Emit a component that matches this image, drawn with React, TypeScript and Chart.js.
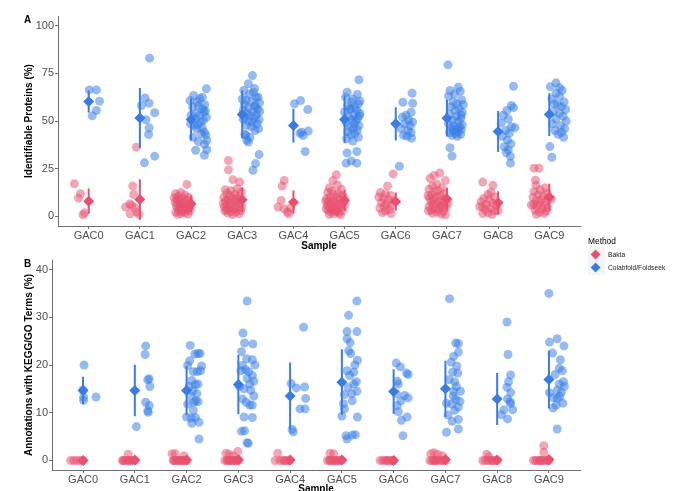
import React, { useEffect, useRef } from 'react';
import { Chart, registerables } from 'chart.js';

Chart.register(...registerables);

const SAMPLES = ['GAC0', 'GAC1', 'GAC2', 'GAC3', 'GAC4', 'GAC5', 'GAC6', 'GAC7', 'GAC8', 'GAC9'];
const METHODS = ['Bakta', 'Colabfold/Foldseek'];
const PROT_TICKS = [0, 25, 50, 75, 100];
const KEGG_TICKS = [0, 10, 20, 30, 40];

// each point: [value %, horizontal jitter in category units]
const PROT_BAKTA: number[][][] = [
  [[17.1, -0.28], [11.9, -0.16], [9.6, -0.2], [1.9, -0.08], [0.9, -0.11]],
  [[36.3, -0.07], [15.9, -0.14], [11.5, -0.12], [4.9, -0.28], [5.8, -0.16], [1.4, -0.19], [2.3, -0.06], [4.5, -0.1], [1.2, -0.02], [6.5, -0.2]],
  [[16.8, -0.08], [12.5, -0.2], [11.9, -0.3], [11.2, -0.12], [10.5, -0.25], [10.0, -0.05], [9.6, -0.17], [9.1, -0.28], [8.7, -0.1], [8.2, -0.22], [7.9, -0.03], [7.5, -0.31], [7.1, -0.15], [6.8, -0.24], [6.4, -0.07], [6.0, -0.19], [5.7, -0.29], [5.3, -0.11], [5.0, -0.21], [4.6, -0.04], [4.3, -0.26], [4.0, -0.14], [3.6, -0.09], [3.3, -0.23], [3.0, -0.02], [2.6, -0.17], [2.3, -0.3], [2.0, -0.12], [1.6, -0.2], [1.3, -0.06], [1.0, -0.26], [9.8, -0.33], [5.5, -0.01], [3.8, -0.18]],
  [[29.3, -0.27], [24.4, -0.27], [19.2, -0.18], [18.0, -0.05], [14.5, -0.1], [14.0, -0.33], [13.5, -0.22], [12.8, -0.02], [12.0, -0.3], [11.5, -0.14], [11.0, -0.24], [10.4, -0.06], [9.9, -0.36], [9.3, -0.19], [8.8, -0.28], [8.3, -0.1], [7.9, -0.33], [7.5, -0.15], [7.0, -0.24], [6.6, -0.04], [6.2, -0.3], [5.8, -0.12], [5.4, -0.21], [5.0, -0.35], [4.6, -0.08], [4.2, -0.26], [3.8, -0.17], [3.4, -0.31], [3.0, -0.03], [2.6, -0.22], [2.2, -0.13], [1.8, -0.28], [1.4, -0.06], [1.0, -0.19], [6.8, -0.37], [4.9, -0.01], [2.9, -0.34], [9.6, -0.11]],
  [[18.8, -0.18], [15.9, -0.22], [8.4, -0.24], [4.9, -0.3], [4.0, -0.18], [2.3, -0.12], [1.4, -0.09], [4.5, -0.05]],
  [[21.8, -0.16], [18.8, -0.23], [16.5, -0.14], [15.0, -0.3], [14.2, -0.06], [13.3, -0.25], [12.6, -0.33], [12.0, -0.12], [11.4, -0.2], [10.9, -0.04], [10.3, -0.28], [9.8, -0.15], [9.3, -0.35], [8.8, -0.09], [8.3, -0.22], [7.9, -0.31], [7.5, -0.02], [7.1, -0.17], [6.7, -0.26], [6.3, -0.1], [5.9, -0.34], [5.5, -0.19], [5.1, -0.06], [4.7, -0.29], [4.3, -0.13], [3.9, -0.23], [3.5, -0.32], [3.1, -0.04], [2.7, -0.18], [2.3, -0.27], [1.9, -0.11], [1.5, -0.21], [1.1, -0.3], [0.8, -0.08], [8.0, -0.37], [6.0, 0.0], [4.0, -0.36], [10.0, -0.01], [2.5, -0.15]],
  [[22.3, -0.05], [16.0, -0.16], [12.5, -0.3], [11.8, -0.2], [11.0, -0.1], [10.2, -0.33], [9.5, -0.24], [8.8, -0.14], [8.0, -0.03], [7.3, -0.28], [6.6, -0.18], [5.9, -0.08], [5.2, -0.22], [4.4, -0.31], [3.6, -0.12], [2.8, -0.2], [2.0, -0.26], [1.5, -0.09]],
  [[22.7, -0.14], [21.5, -0.25], [20.0, -0.33], [18.8, -0.03], [17.0, -0.2], [16.0, -0.28], [15.0, -0.1], [14.2, -0.35], [13.5, -0.17], [12.8, -0.24], [12.0, -0.06], [11.4, -0.3], [10.8, -0.13], [10.2, -0.21], [9.7, -0.34], [9.2, -0.04], [8.7, -0.26], [8.2, -0.15], [7.7, -0.31], [7.2, -0.09], [6.7, -0.2], [6.2, -0.27], [5.7, -0.12], [5.2, -0.35], [4.7, -0.02], [4.2, -0.23], [3.7, -0.17], [3.2, -0.3], [2.7, -0.07], [2.2, -0.19], [1.7, -0.28], [1.2, -0.11], [0.9, -0.03], [11.0, -0.37], [7.0, 0.02], [5.0, -0.1], [3.0, -0.36]],
  [[18.0, -0.3], [16.3, -0.1], [12.6, -0.14], [11.5, -0.2], [10.2, -0.07], [9.4, -0.28], [8.6, -0.17], [7.8, -0.33], [7.0, -0.11], [6.3, -0.23], [5.6, -0.03], [4.9, -0.3], [4.2, -0.15], [3.5, -0.25], [2.8, -0.08], [2.1, -0.2], [1.5, -0.3], [1.0, -0.12], [5.2, -0.36], [3.0, 0.0]],
  [[25.3, -0.3], [25.3, -0.2], [19.0, -0.27], [16.3, -0.26], [15.0, -0.08], [14.0, -0.18], [13.0, -0.3], [12.2, -0.04], [11.4, -0.22], [10.7, -0.12], [10.0, -0.32], [9.4, -0.02], [8.8, -0.16], [8.2, -0.26], [7.6, -0.08], [7.0, -0.2], [6.4, -0.3], [5.8, -0.1], [5.2, -0.24], [4.6, -0.03], [4.0, -0.14], [3.4, -0.28], [2.8, -0.06], [2.2, -0.19], [1.6, -0.1], [1.1, -0.25], [9.0, 0.04], [6.0, -0.35]],
];

const PROT_COLAB: number[][][] = [
  [[66.3, 0.01], [66.3, 0.15], [60.4, 0.21], [55.5, 0.15], [52.7, 0.07]],
  [[82.9, 0.19], [62.1, 0.1], [58.1, 0.03], [59.3, 0.18], [54.3, 0.29], [50.6, 0.12], [46.4, 0.18], [42.9, 0.17], [31.6, 0.29], [28.1, 0.09]],
  [[66.9, 0.3], [63.4, 0.05], [62.5, 0.22], [61.6, 0.17], [60.7, -0.02], [59.9, 0.12], [58.5, 0.27], [57.3, 0.03], [56.4, 0.22], [55.2, 0.28], [54.7, 0.25], [53.8, 0.1], [52.9, 0.16], [52.0, 0.3], [51.2, 0.08], [50.3, 0.24], [49.4, 0.19], [48.5, -0.01], [48.0, 0.13], [47.7, 0.06], [46.4, 0.22], [45.9, 0.11], [44.2, 0.26], [43.3, 0.2], [42.7, 0.29], [41.5, 0.04], [39.3, 0.14], [39.8, 0.31], [37.8, 0.26], [34.7, 0.09], [35.0, 0.31], [32.0, 0.26], [53.0, 0.0], [57.8, 0.14]],
  [[73.8, 0.2], [69.5, 0.12], [66.0, 0.03], [65.0, 0.22], [64.2, 0.14], [62.5, 0.31], [62.5, 0.27], [61.0, 0.08], [60.2, 0.18], [59.5, 0.34], [58.5, 0.04], [57.8, 0.24], [57.0, 0.12], [56.2, 0.3], [55.5, 0.02], [54.8, 0.2], [54.0, 0.1], [53.3, 0.28], [52.6, 0.16], [52.0, 0.05], [51.3, 0.24], [50.7, 0.33], [50.0, 0.12], [49.3, 0.2], [48.6, 0.29], [47.8, 0.08], [47.0, 0.18], [46.0, 0.32], [45.0, 0.25], [43.0, 0.05], [42.6, 0.07], [41.5, 0.15], [39.9, 0.09], [39.0, 0.12], [32.4, 0.33], [27.7, 0.26], [24.2, 0.21], [61.5, 0.0], [58.0, 0.26], [55.0, 0.34], [51.0, 0.02], [67.0, 0.24]],
  [[59.0, 0.02], [60.7, 0.14], [56.0, 0.28], [44.1, 0.16], [44.7, 0.29], [42.4, 0.19], [43.5, 0.13], [34.0, 0.23]],
  [[71.6, 0.28], [65.1, 0.05], [63.9, 0.25], [62.5, 0.02], [61.5, 0.16], [59.8, 0.14], [59.0, 0.27], [58.0, 0.06], [57.2, 0.2], [56.5, 0.12], [55.5, 0.24], [54.7, 0.0], [54.0, 0.3], [53.0, 0.18], [52.3, 0.08], [51.5, 0.26], [50.8, 0.14], [50.0, 0.22], [49.2, 0.03], [48.5, 0.19], [47.7, 0.28], [47.0, 0.1], [46.2, 0.17], [45.3, 0.25], [44.5, 0.06], [43.5, 0.2], [42.7, 0.12], [41.5, 0.27], [40.8, 0.04], [39.5, 0.16], [33.3, 0.05], [34.0, 0.24], [29.0, 0.13], [27.9, 0.03], [27.9, 0.24], [60.5, 0.3], [56.0, 0.1], [52.8, 0.29]],
  [[64.6, 0.32], [59.8, 0.14], [59.3, 0.33], [54.6, 0.3], [53.0, 0.2], [52.0, 0.13], [50.5, 0.25], [49.5, 0.33], [48.5, 0.17], [47.5, 0.28], [46.0, 0.1], [45.0, 0.24], [44.0, 0.3], [42.5, 0.15], [41.0, 0.31], [42.0, 0.22], [26.3, 0.07]],
  [[79.4, 0.02], [67.7, 0.22], [66.0, 0.06], [65.5, 0.26], [64.0, 0.15], [63.0, 0.03], [61.0, 0.29], [60.0, 0.12], [59.0, 0.2], [57.5, 0.08], [56.5, 0.24], [55.5, 0.16], [54.5, 0.3], [53.5, 0.05], [52.5, 0.19], [51.5, 0.27], [50.5, 0.11], [49.5, 0.22], [48.5, 0.03], [48.0, 0.3], [47.5, 0.14], [47.0, 0.25], [46.5, 0.08], [46.0, 0.19], [45.5, 0.28], [45.0, 0.12], [44.5, 0.22], [44.0, 0.05], [43.5, 0.17], [43.0, 0.27], [42.5, 0.1], [42.0, 0.2], [36.0, 0.06], [31.6, 0.1], [53.0, 0.28], [58.5, 0.32]],
  [[68.2, 0.3], [58.1, 0.26], [57.0, 0.3], [55.5, 0.17], [53.0, 0.1], [51.0, 0.2], [49.0, 0.06], [47.0, 0.26], [46.5, 0.33], [45.0, 0.15], [43.5, 0.22], [42.0, 0.08], [40.0, 0.18], [38.0, 0.25], [36.5, 0.12], [35.0, 0.2], [33.5, 0.16], [31.5, 0.24], [27.9, 0.24]],
  [[70.0, 0.13], [68.0, 0.02], [67.5, 0.2], [66.0, 0.25], [64.5, 0.13], [63.0, 0.2], [61.5, 0.05], [60.0, 0.29], [58.5, 0.16], [57.5, 0.24], [56.0, 0.32], [55.0, 0.08], [54.0, 0.2], [52.5, 0.27], [51.0, 0.13], [50.0, 0.33], [48.5, 0.06], [47.5, 0.22], [46.0, 0.3], [45.0, 0.11], [44.0, 0.24], [43.0, 0.17], [41.5, 0.28], [36.6, 0.01], [31.0, 0.05], [59.0, 0.1]],
];

const PROT_BAKTA_MEAN = [8.0, 8.9, 6.6, 8.7, 7.5, 8.4, 7.8, 9.2, 7.2, 10.1];
const PROT_BAKTA_SD = [6.6, 10.6, 4.5, 6.5, 6.1, 5.5, 4.8, 6.0, 6.0, 7.0];
const PROT_COLAB_MEAN = [60.2, 51.6, 50.8, 53.4, 47.6, 50.8, 48.5, 51.5, 44.5, 53.4];
const PROT_COLAB_SD = [5.8, 15.7, 11.0, 12.6, 8.8, 12.5, 8.7, 9.6, 10.7, 11.2];

const KEGG_BAKTA: number[][][] = [
  [[0, -0.24], [0, -0.18], [0, -0.12], [0, -0.06], [0, 0]],
  [[1.3, -0.13], [0, -0.24], [0, -0.2], [0, -0.16], [0, -0.12], [0, -0.08], [0, -0.04], [0, 0], [0, -0.22], [0, -0.1]],
  [[1.4, -0.28], [1.4, -0.22], [1.0, -0.05], [0, -0.26], [0, -0.22], [0, -0.18], [0, -0.14], [0, -0.1], [0, -0.06], [0, -0.02], [0, 0], [0, -0.24], [0, -0.16], [0, -0.08]],
  [[1.5, -0.24], [1.3, -0.18], [1.9, -0.01], [1.0, -0.1], [0, -0.26], [0, -0.22], [0, -0.18], [0, -0.14], [0, -0.1], [0, -0.06], [0, -0.02], [0, 0], [0, -0.2], [0, -0.12]],
  [[1.5, -0.24], [0, -0.29], [0, -0.2], [0, -0.14], [0, -0.08], [0, -0.03], [0, 0], [0, -0.11]],
  [[1.5, -0.23], [1.4, -0.16], [0, -0.28], [0, -0.24], [0, -0.2], [0, -0.16], [0, -0.12], [0, -0.08], [0, -0.04], [0, 0], [0, -0.22], [0, -0.1]],
  [[0, -0.26], [0, -0.21], [0, -0.16], [0, -0.11], [0, -0.06], [0, -0.02], [0, 0], [0, -0.13]],
  [[1.4, -0.28], [1.6, -0.22], [1.3, -0.15], [1.0, -0.06], [0, -0.3], [0, -0.26], [0, -0.22], [0, -0.18], [0, -0.14], [0, -0.1], [0, -0.06], [0, -0.02], [0, 0], [0, -0.2]],
  [[1.3, -0.2], [0.8, -0.16], [0, -0.28], [0, -0.23], [0, -0.18], [0, -0.13], [0, -0.08], [0, -0.03], [0, 0], [0, -0.1]],
  [[3.1, -0.1], [1.7, -0.1], [0, -0.3], [0, -0.26], [0, -0.22], [0, -0.18], [0, -0.14], [0, -0.1], [0, -0.06], [0, -0.02], [0, 0], [0, -0.16]],
];

const KEGG_COLAB: number[][][] = [
  [[20.0, 0.02], [14.8, 0.0], [13.3, 0.01], [12.6, 0.01], [13.3, 0.25]],
  [[24.0, 0.21], [22.2, 0.2], [17.1, 0.28], [16.9, 0.25], [15.5, 0.29], [12.2, 0.21], [11.5, 0.28], [10.4, 0.25], [10.1, 0.26], [7.1, 0.03]],
  [[24.1, 0.07], [22.3, 0.16], [22.4, 0.22], [22.4, 0.26], [20.9, 0.06], [19.9, 0.02], [19.8, 0.29], [18.6, 0.13], [18.6, 0.21], [18.8, 0.27], [16.75, 0.1], [15.9, 0.17], [15.5, 0.05], [14.6, 0.12], [13.5, 0.08], [12.5, 0.18], [12.2, 0.14], [11.8, 0.02], [12.3, 0.22], [9.1, 0.0], [8.9, 0.09], [9.0, 0.17], [7.8, 0.1], [8.0, 0.24], [4.5, 0.24], [14.0, 0.2], [10.5, 0.13], [16.0, 0.22]],
  [[33.4, 0.17], [26.7, 0.09], [24.6, 0.12], [24.4, 0.28], [22.8, 0.06], [21.3, 0.16], [21.1, 0.27], [19.9, 0.08], [19.0, 0.14], [18.6, 0.2], [18.8, 0.05], [17.8, 0.27], [17.2, 0.17], [16.6, 0.3], [16.0, 0.22], [15.0, 0.11], [14.7, 0.24], [12.9, 0.08], [12.2, 0.15], [11.6, 0.22], [11.6, 0.27], [9.1, 0.11], [9.0, 0.27], [6.1, 0.06], [6.2, 0.12], [3.7, 0.17], [3.6, 0.19], [20.0, 0.32], [15.5, 0.02], [13.5, 0.3]],
  [[27.9, 0.26], [16.1, 0.02], [15.2, 0.12], [15.4, 0.28], [13.0, 0.3], [10.8, 0.19], [10.8, 0.29], [6.5, 0.04], [6.0, 0.06]],
  [[33.4, 0.29], [30.4, 0.13], [27.0, 0.1], [27.0, 0.29], [25.5, 0.1], [24.7, 0.16], [23.0, 0.13], [22.4, 0.17], [21.0, 0.3], [18.8, 0.1], [18.5, 0.23], [17.8, 0.15], [16.5, 0.28], [16.0, 0.23], [15.3, 0.12], [14.5, 0.29], [14.0, 0.19], [13.8, 0.05], [11.9, 0.03], [10.8, 0.05], [9.1, 0.3], [9.3, 0.0], [5.2, 0.08], [5.3, 0.2], [5.4, 0.26], [4.5, 0.1], [20.0, 0.25], [12.5, 0.2]],
  [[20.4, 0.05], [19.6, 0.13], [18.3, 0.25], [16.6, 0.07], [16.0, 0.09], [13.6, 0.21], [13.1, 0.28], [11.5, 0.07], [10.2, 0.09], [9.1, 0.26], [8.4, 0.15], [5.2, 0.18], [18.0, 0.28], [14.0, 0.05], [12.5, 0.14]],
  [[33.9, 0.08], [24.6, 0.2], [24.5, 0.25], [22.7, 0.25], [21.8, 0.16], [20.6, 0.11], [19.8, 0.22], [18.5, 0.14], [18.3, 0.24], [16.9, 0.07], [16.5, 0.18], [15.5, 0.21], [14.5, 0.16], [14.5, 0.29], [13.5, 0.15], [12.8, 0.2], [12.4, 0.28], [11.8, 0.12], [11.2, 0.25], [9.5, 0.05], [8.2, 0.13], [8.6, 0.25], [5.9, 0.02], [6.6, 0.25], [12.0, 0.02], [10.5, 0.18]],
  [[29.0, 0.19], [22.2, 0.21], [17.9, 0.26], [16.5, 0.22], [15.3, 0.19], [14.2, 0.26], [12.9, 0.2], [12.3, 0.25], [11.9, 0.26], [10.6, 0.13], [10.6, 0.3], [9.6, 0.08], [8.7, 0.2]],
  [[35.0, 0.0], [24.8, 0.01], [25.5, 0.16], [24.0, 0.29], [22.5, 0.07], [21.1, 0.22], [19.3, 0.2], [18.8, 0.26], [18.0, 0.12], [16.5, 0.28], [16.0, 0.2], [15.5, 0.3], [14.7, 0.16], [14.2, 0.01], [14.3, 0.24], [13.2, 0.08], [13.0, 0.16], [13.4, 0.21], [11.6, 0.14], [11.0, 0.08], [6.6, 0.16], [12.0, 0.27]],
];

const KEGG_BAKTA_MEAN = [0, 0.1, 0.1, 0.15, 0.1, 0.1, 0, 0.2, 0.1, 0.2];
const KEGG_BAKTA_SD = [0, 0.4, 0.4, 0.5, 0.4, 0.4, 0, 0.5, 0.4, 0.7];
const KEGG_COLAB_MEAN = [14.66, 14.66, 14.66, 15.9, 13.5, 16.4, 14.45, 15.0, 12.9, 16.96];
const KEGG_COLAB_SD = [2.9, 5.4, 5.2, 6.2, 7.0, 6.9, 4.65, 5.9, 5.45, 6.1];

const RED = 'rgb(232,80,110)';
const RED_PT = 'rgba(232,80,110,0.5)';
const BLUE = 'rgb(56,124,228)';
const BLUE_PT = 'rgba(56,124,228,0.52)';
const FONT = "'Liberation Sans', Arial, Helvetica, sans-serif";
const AXIS = '#6e6e6e';
const TICKTXT = '#4d4d4d';

function pointsOf(groups: number[][][]) {
  return groups.flatMap((g, i) => g.map(([v, dx]) => ({ x: i + dx, y: v })));
}
function barsOf(mean: number[], sd: number[]) {
  return mean.flatMap((m, i) => [
    { x: i, y: m - sd[i] },
    { x: i, y: m + sd[i] },
    { x: i, y: null as any },
  ]);
}
function meansOf(mean: number[]) {
  return mean.map((m, i) => ({ x: i, y: m }));
}

type PanelCfg = {
  bakta: number[][][];
  colab: number[][][];
  bMean: number[];
  bSd: number[];
  cMean: number[];
  cSd: number[];
  yMin: number;
  yMax: number;
  yTicks: number[];
  yTitle: string;
  yWidth: number;
  xHeight: number;
  padding: { left: number; right: number; top: number; bottom: number };
};

function makeConfig(p: PanelCfg): any {
  return {
    type: 'scatter',
    data: {
      datasets: [
        { label: METHODS[1] + ' mean', data: meansOf(p.cMean), pointStyle: 'rectRot', pointRadius: 5.5, backgroundColor: BLUE, borderWidth: 0, order: 0 },
        { label: METHODS[0] + ' mean', data: meansOf(p.bMean), pointStyle: 'rectRot', pointRadius: 5.5, backgroundColor: RED, borderWidth: 0, order: 1 },
        { label: METHODS[1] + ' sd', data: barsOf(p.cMean, p.cSd), showLine: true, spanGaps: false, borderColor: BLUE, borderWidth: 2, pointRadius: 0, order: 2 },
        { label: METHODS[0] + ' sd', data: barsOf(p.bMean, p.bSd), showLine: true, spanGaps: false, borderColor: RED, borderWidth: 2, pointRadius: 0, order: 3 },
        { label: METHODS[1], data: pointsOf(p.colab), pointRadius: 4.5, backgroundColor: BLUE_PT, borderWidth: 0, order: 4 },
        { label: METHODS[0], data: pointsOf(p.bakta), pointRadius: 4.5, backgroundColor: RED_PT, borderWidth: 0, order: 5 },
      ],
    },
    options: {
      animation: false,
      responsive: false,
      devicePixelRatio: 1,
      layout: { padding: p.padding },
      plugins: { legend: { display: false }, tooltip: { enabled: false } },
      scales: {
        x: {
          type: 'linear',
          min: -0.6,
          max: 9.6,
          afterBuildTicks: (s: any) => {
            s.ticks = SAMPLES.map((_, i) => ({ value: i }));
          },
          afterFit: (s: any) => {
            s.height = p.xHeight;
          },
          ticks: {
            autoSkip: false,
            maxRotation: 0,
            padding: 0,
            color: TICKTXT,
            font: { family: FONT, size: 11 },
            callback: (_v: any, i: number) => SAMPLES[i],
          },
          grid: { drawOnChartArea: false, drawTicks: true, tickLength: 3, color: AXIS },
          border: { display: true, color: AXIS, width: 1 },
          title: { display: true, text: 'Sample', color: '#000', padding: 0, font: { family: FONT, size: 10, weight: 'bold' } },
        },
        y: {
          type: 'linear',
          min: p.yMin,
          max: p.yMax,
          afterBuildTicks: (s: any) => {
            s.ticks = p.yTicks.map((v) => ({ value: v }));
          },
          afterFit: (s: any) => {
            s.width = p.yWidth;
          },
          ticks: {
            padding: 1,
            color: TICKTXT,
            font: { family: FONT, size: 11 },
            callback: (v: any) => String(v),
          },
          grid: { drawOnChartArea: false, drawTicks: true, tickLength: 3, color: AXIS },
          border: { display: true, color: AXIS, width: 1 },
          title: { display: true, text: p.yTitle, color: '#000', padding: 0, font: { family: FONT, size: 10, weight: 'bold' } },
        },
      },
    },
  };
}

function Panel(props: { cfg: PanelCfg; top: number; height: number }) {
  const ref = useRef<HTMLCanvasElement>(null);
  useEffect(() => {
    if (!ref.current) return;
    const chart = new Chart(ref.current, makeConfig(props.cfg));
    return () => chart.destroy();
  }, []);
  return (
    <canvas
      ref={ref}
      width={680}
      height={props.height}
      style={{ position: 'absolute', left: 0, top: props.top, width: 680, height: props.height }}
    />
  );
}

const PANEL_A: PanelCfg = {
  bakta: PROT_BAKTA,
  colab: PROT_COLAB,
  bMean: PROT_BAKTA_MEAN,
  bSd: PROT_BAKTA_SD,
  cMean: PROT_COLAB_MEAN,
  cSd: PROT_COLAB_SD,
  yMin: -5,
  yMax: 105,
  yTicks: PROT_TICKS,
  yTitle: 'Identifiable Proteins (%)',
  yWidth: 35,
  xHeight: 26,
  padding: { left: 23, right: 100, top: 16, bottom: 0 },
};

const PANEL_B: PanelCfg = {
  bakta: KEGG_BAKTA,
  colab: KEGG_COLAB,
  bMean: KEGG_BAKTA_MEAN,
  bSd: KEGG_BAKTA_SD,
  cMean: KEGG_COLAB_MEAN,
  cSd: KEGG_COLAB_SD,
  yMin: -2,
  yMax: 42,
  yTicks: KEGG_TICKS,
  yTitle: 'Annotations with KEGG/GO Terms (%)',
  yWidth: 29,
  xHeight: 25,
  padding: { left: 23, right: 100, top: 8, bottom: 9 },
};

function LegendKey(props: { color: string; label: string; top: number }) {
  return (
    <>
      <div style={{ position: 'absolute', left: 588, top: props.top - 7, width: 17, height: 14, background: '#f4f4f7' }} />
      <div
        style={{
          position: 'absolute',
          left: 596 - 3.6,
          top: props.top - 3.6,
          width: 7.2,
          height: 7.2,
          background: props.color,
          transform: 'rotate(45deg)',
        }}
      />
      <div style={{ position: 'absolute', left: 608, top: props.top - 4, fontSize: 6.7, lineHeight: '8px', fontFamily: FONT, color: '#1a1a1a' }}>
        {props.label}
      </div>
    </>
  );
}

export default function App() {
  return (
    <div style={{ position: 'fixed', left: 0, top: 0, width: 680, height: 491, overflow: 'hidden', background: '#fff' }}>
      <Panel cfg={PANEL_A} top={0} height={252} />
      <Panel cfg={PANEL_B} top={252} height={252} />
      <div style={{ position: 'absolute', left: 24, top: 15, fontFamily: FONT, fontWeight: 'bold', fontSize: 10, lineHeight: '10px', color: '#000' }}>A</div>
      <div style={{ position: 'absolute', left: 24, top: 259, fontFamily: FONT, fontWeight: 'bold', fontSize: 10, lineHeight: '10px', color: '#000' }}>B</div>
      <div style={{ position: 'absolute', left: 588, top: 236, fontFamily: FONT, fontSize: 8.4, lineHeight: '10px', color: '#000' }}>Method</div>
      <LegendKey color={RED} label={METHODS[0]} top={255} />
      <LegendKey color={BLUE} label={METHODS[1]} top={268} />
    </div>
  );
}
